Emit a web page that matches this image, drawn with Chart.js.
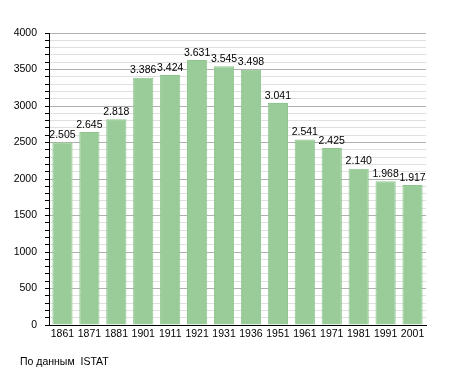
<!DOCTYPE html>
<html>
<head>
<meta charset="utf-8">
<script src="https://cdn.jsdelivr.net/npm/chart.js@4"></script>
<style>
  html, body { margin: 0; padding: 0; background: #fff; }
  #wrap { width: 455px; height: 373px; }
</style>
</head>
<body>
<div id="wrap"><canvas id="barChart"></canvas></div>
<script>
// data
const years = ['1861','1871','1881','1901','1911','1921','1931','1936','1951','1961','1971','1981','1991','2001'];
const population = [2505, 2645, 2818, 3386, 3424, 3631, 3545, 3498, 3041, 2541, 2425, 2140, 1968, 1917];
const yMax = 4000;
const yMajorStep = 500;
const yMinorStep = 100;
const sourceNote = 'По данным  ISTAT';

const FONT = 'Liberation Sans, Arial, sans-serif';

// values above bars + source line
const labelsPlugin = {
    id: 'labels',
    afterDatasetsDraw(chart) {
        const ctx = chart.ctx;
        const meta = chart.getDatasetMeta(0);
        ctx.save();
        ctx.font = '10.5px ' + FONT;
        ctx.fillStyle = '#000';
        ctx.textAlign = 'center';
        ctx.textBaseline = 'bottom';
        meta.data.forEach((bar, i) => {
            const txt = population[i].toLocaleString('de-DE');
            ctx.fillText(txt, bar.x, bar.y - 2);
        });
        ctx.textAlign = 'left';
        ctx.textBaseline = 'middle';
        ctx.font = '10.5px ' + FONT;
        ctx.fillText(sourceNote, 20, 362);
        ctx.restore();
    }
};

new Chart(document.getElementById('barChart'), {
    type: 'bar',
    data: {
        labels: years,
        datasets: [{
            data: population,
            backgroundColor: '#99cc99',
            borderColor: '#8fc68f',
            borderWidth: 1,
            barPercentage: 0.75,
            categoryPercentage: 1.0
        }]
    },
    options: {
        responsive: true,
        maintainAspectRatio: false,
        animation: false,
        layout: { padding: { top: 33, right: 29, bottom: 27, left: 0 } },
        plugins: { legend: { display: false }, tooltip: { enabled: false } },
        scales: {
            x: {
                grid: { display: false, drawTicks: false, tickLength: 0 },
                border: { color: '#000', width: 1 },
                ticks: { color: '#000', font: { family: FONT, size: 10.5 }, padding: 3, maxRotation: 0, autoSkip: false },
                afterFit(scale) { scale.height = 21; }
            },
            y: {
                min: 0,
                max: yMax,
                border: { color: '#000', width: 1 },
                grid: {
                    color: c => (c.tick && c.tick.value % yMajorStep === 0) ? '#b0b0b0' : '#e0e0e0',
                    tickColor: '#000',
                    tickLength: 4
                },
                ticks: {
                    stepSize: yMinorStep,
                    autoSkip: false,
                    color: '#000',
                    font: { family: FONT, size: 10.5 },
                    padding: 8,
                    callback: v => (v % yMajorStep === 0) ? String(v) : ''
                },
                afterFit(scale) { scale.width = 49; }
            }
        }
    },
    plugins: [labelsPlugin]
});
</script>
</body>
</html>
